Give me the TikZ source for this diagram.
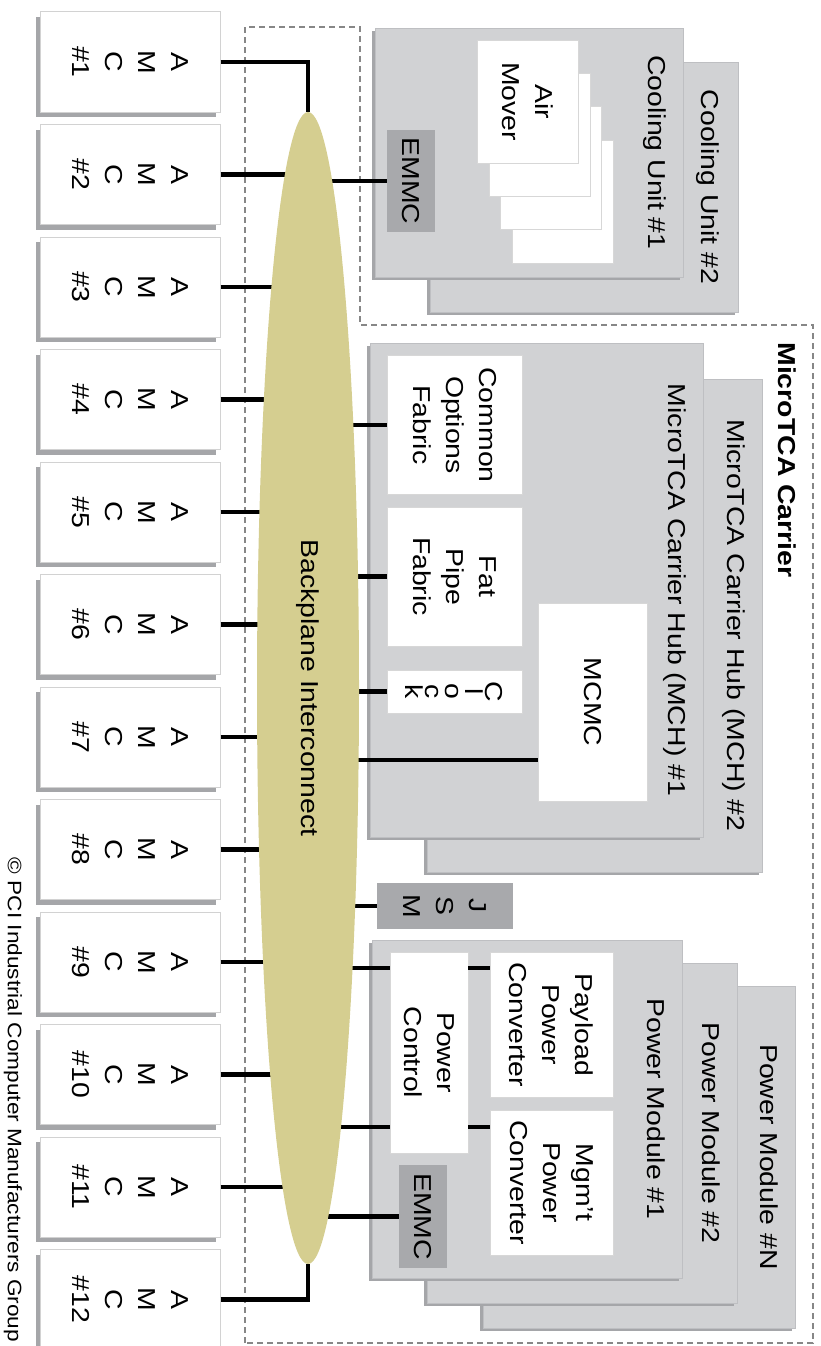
\documentclass[tikz,border=0pt]{standalone}
\usepackage{fontspec}
\setmainfont{Liberation Sans}[FakeStretch=1.16]
\usetikzlibrary{shapes.geometric}
\usetikzlibrary{positioning}
\usetikzlibrary{calc}
\usetikzlibrary{shadows}

\definecolor{modgray}{RGB}{209,210,212}
\definecolor{modedge}{RGB}{190,191,194}
\definecolor{shadegray}{RGB}{165,166,169}
\definecolor{ctrlgray}{RGB}{168,169,172}
\definecolor{amcedge}{RGB}{210,210,210}
\definecolor{partedge}{RGB}{215,215,215}
\definecolor{bpkhaki}{RGB}{213,206,144}
\definecolor{dashgray}{RGB}{135,135,135}

\pgfdeclarelayer{bg}
\pgfdeclarelayer{fg}
\pgfsetlayers{bg,main,fg}

\begin{document}
\begin{tikzpicture}[
    x=1pt, y=1pt,
    rotate=-90,
    transform shape,
    every node/.style={font=\fontsize{24.5}{33}\selectfont, inner sep=0pt},
    amc/.style={draw=amcedge, line width=1pt, fill=white, minimum width=100pt, minimum height=180pt, align=center,
        drop shadow={shadow xshift=-4pt, shadow yshift=-5pt, fill=shadegray, opacity=1}},
    unit/.style={draw=modedge, fill=modgray,
        drop shadow={shadow xshift=-3pt, shadow yshift=-3pt, fill=shadegray, opacity=1}},
    unitlabel/.style={anchor=center, yshift=-28pt},
    part/.style={draw=partedge, fill=white, align=center},
    ctrl/.style={fill=ctrlgray, align=center},
    link/.style={line width=4.5pt},
    carrier/.style={draw=dashgray, line width=1.2pt, dash pattern=on 6pt off 4pt}
]
\useasboundingbox (0,0) rectangle (1346,821);

\begin{pgfonlayer}{bg}
\draw[carrier] (1343,245) -- (27,245) -- (27,360) -- (325,360) -- (325,813) -- (1343,813) -- cycle;
\end{pgfonlayer}

\begin{pgfonlayer}{fg}
\node[ellipse, fill=bpkhaki, minimum width=1152pt, minimum height=102pt] (bp) at (688,308) {Backplane Interconnect};
\end{pgfonlayer}

\foreach \i in {1,...,12}
    \node[amc] (amc\i) at ({62+112.5*(\i-1)},130) {A\\M\\C\\\#\i};

\node[font=\fontsize{19.5}{24}\selectfont] (pcimg) at (1100,13) {\textcopyright{} PCI Industrial Computer Manufacturers Group};
\node[font=\bfseries\fontsize{24.5}{33}\selectfont] (carrier) at (460,787) {MicroTCA Carrier};

\node[unit, minimum width=250pt, minimum height=308pt, label={[unitlabel, yshift=-2pt]north:Cooling Unit \#2}] (cu2) at (187,584) {};
\node[unit, minimum width=249pt, minimum height=308pt, label={[unitlabel]north:Cooling Unit \#1}] (cu1) at (152.5,529) {};
\foreach \k in {3,2,1}
    \node[part, minimum width=123pt, minimum height=101pt] (air\k) at ({101.5+33.3*\k},{527.5+11.8*\k}) {};
\node[part, minimum width=123pt, minimum height=101pt] (air0) at (101.5,527.5) {Air\\Mover};
\node[ctrl, minimum width=102pt, minimum height=48pt] (emmc1) at (181,411) {EMMC};

\node[unit, minimum width=493pt, minimum height=335pt, label={[unitlabel]north:MicroTCA Carrier Hub (MCH) \#2}] (mch2) at (625.5,594.5) {};
\node[unit, minimum width=494pt, minimum height=333pt, label={[unitlabel]north:MicroTCA Carrier Hub (MCH) \#1}] (mch1) at (590,536.5) {};
\node[part, minimum width=139pt, minimum height=135pt] (cof) at (425,454.5) {Common\\Options\\Fabric};
\node[part, minimum width=139pt, minimum height=135pt] (fpf) at (576.5,454.5) {Fat\\Pipe\\Fabric};
\node[part, minimum width=43pt, minimum height=135pt, font=\fontsize{24.5}{20}\selectfont] (clk) at (691.5,454.5) {C\\l\\o\\c\\k};
\node[part, minimum width=198pt, minimum height=109pt] (mcmc) at (702,592.5) {MCMC};

\node[ctrl, minimum width=46pt, minimum height=136pt] (jsm) at (906,445) {J\\S\\M};

\node[unit, minimum width=342pt, minimum height=312pt, label={[unitlabel, yshift=2pt]north:Power Module \#N}] (pmN) at (1157,639) {};
\node[unit, minimum width=340pt, minimum height=310pt, label={[unitlabel, yshift=2pt]north:Power Module \#2}] (pm2) at (1133,582) {};
\node[unit, minimum width=338pt, minimum height=310pt, label={[unitlabel, yshift=2pt]north:Power Module \#1}] (pm1) at (1109,527) {};
\node[part, minimum width=145pt, minimum height=123pt] (ppc) at (1024.5,551.5) {Payload\\Power\\Converter};
\node[part, minimum width=145pt, minimum height=123pt] (mpc) at (1182.5,551.5) {Mgm't\\Power\\Converter};
\node[part, minimum width=201pt, minimum height=78pt] (pwc) at (1052.5,429) {Power\\Control};
\node[ctrl, minimum width=103pt, minimum height=48pt] (emmc2) at (1216.5,423) {EMMC};

\foreach \n in {emmc1,cof,fpf,clk,jsm,emmc2}
    \draw[link] (\n.south) -- (\n.south |- bp.center);
\coordinate (mcmcport) at ([xshift=58pt]mcmc.south);
\draw[link] (mcmcport) -- (mcmcport |- bp.center);
\coordinate (ppcport) at ([xshift=16pt]ppc.south west);
\coordinate (mpcport) at ([xshift=17pt]mpc.south west);
\foreach \p in {ppcport,mpcport}{
    \draw[link] (\p) -- (\p |- pwc.north);
    \draw[link] (\p |- pwc.south) -- (\p |- bp.center);
}

\foreach \i in {2,...,11}
    \draw[link] (amc\i.north) -- (amc\i.north |- bp.center);
\draw[link] (amc1.north) |- (bp.west);
\draw[link] (amc12.north) |- (bp.east);
\end{tikzpicture}
\end{document}
